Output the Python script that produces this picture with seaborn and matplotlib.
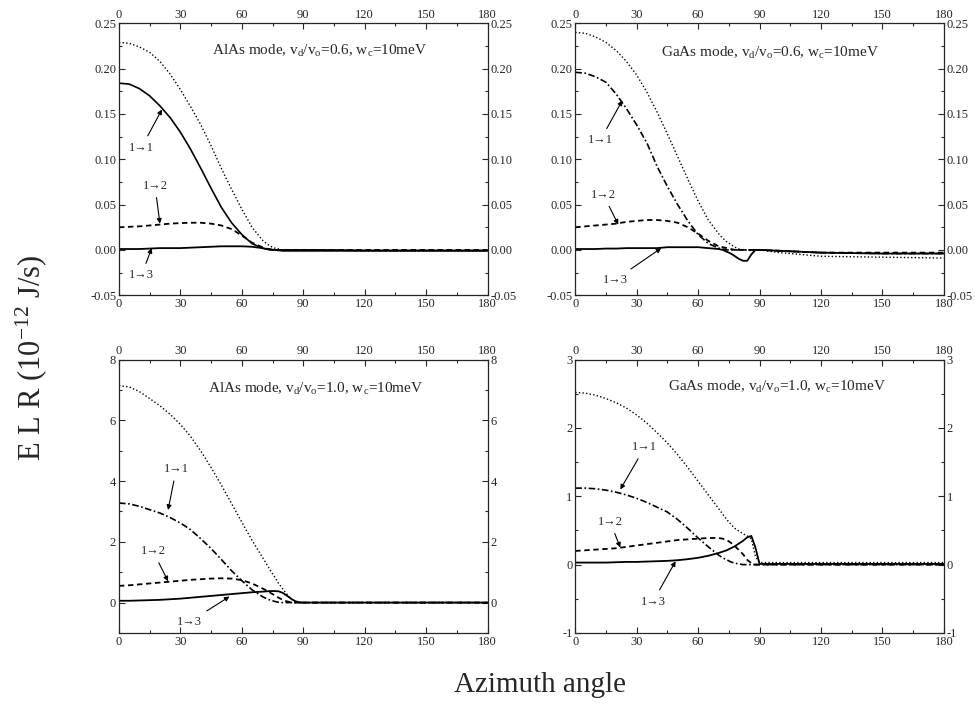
import matplotlib
matplotlib.use('Agg')
import matplotlib.pyplot as plt
from matplotlib.ticker import MultipleLocator, FormatStrFormatter
import seaborn as sns

# azimuth angle grid (degrees)
ang = [0, 5, 10, 15, 20, 25, 30, 35, 40, 45, 50, 55, 60, 65, 70,
       72, 74, 76, 78, 80, 82, 84, 86, 88, 90, 100, 120, 150, 180]

# AlAs mode, vd/vo = 0.6
alas06_total = [0.229, 0.228, 0.224, 0.218, 0.208, 0.194, 0.177, 0.158, 0.138, 0.115, 0.090, 0.067, 0.045, 0.025, 0.011,
                0.007, 0.004, 0.002, 0.001, 0, 0, 0, 0, 0, 0, 0, -0.001, -0.001, -0.001]
alas06_11 = [0.184, 0.183, 0.178, 0.170, 0.159, 0.146, 0.130, 0.111, 0.090, 0.068, 0.047, 0.030, 0.017, 0.007, 0.002,
             0.001, 0, 0, 0, 0, 0, 0, 0, 0, 0, 0, -0.0005, -0.0005, -0.0005]
alas06_12 = [0.025, 0.0255, 0.026, 0.027, 0.028, 0.029, 0.0296, 0.030, 0.030, 0.029, 0.027, 0.023, 0.016, 0.008, 0.003,
             0.0015, 0.0007, 0, 0, 0, 0, 0, 0, 0, 0, 0, 0, 0, 0]
alas06_13 = [0.001, 0.001, 0.001, 0.0015, 0.002, 0.002, 0.002, 0.0025, 0.003, 0.0035, 0.004, 0.004, 0.004, 0.0035, 0.002,
             0.001, 0.0005, 0, -0.0005, -0.001, -0.001, -0.001, -0.001, -0.001, -0.001, -0.001, -0.001, -0.001, -0.001]

# GaAs mode, vd/vo = 0.6
gaas06_total = [0.240, 0.239, 0.235, 0.229, 0.220, 0.208, 0.193, 0.174, 0.152, 0.128, 0.103, 0.078, 0.054, 0.033, 0.018,
                0.013, 0.009, 0.006, 0.003, 0.001, 0, 0, 0, 0, 0, -0.003, -0.007, -0.008, -0.009]
gaas06_11 = [0.196, 0.195, 0.191, 0.185, 0.172, 0.156, 0.138, 0.118, 0.092, 0.070, 0.050, 0.032, 0.017, 0.007, 0.002,
             0.001, 0, 0, 0, 0, 0, 0, 0, 0, 0, -0.001, -0.003, -0.004, -0.004]
gaas06_12 = [0.025, 0.026, 0.027, 0.028, 0.029, 0.031, 0.032, 0.033, 0.033, 0.032, 0.030, 0.025, 0.018, 0.010, 0.004,
             0.003, 0.002, 0.001, 0, 0, 0, 0, 0, 0, 0, -0.001, -0.003, -0.003, -0.003]
gaas06_13 = [0.001, 0.001, 0.001, 0.0015, 0.0015, 0.002, 0.002, 0.002, 0.002, 0.003, 0.003, 0.003, 0.003, 0.002, 0.001,
             0, -0.002, -0.004, -0.007, -0.010, -0.012, -0.012, -0.005, 0, 0, -0.001, -0.003, -0.004, -0.004]

# AlAs mode, vd/vo = 1.0
alas10_total = [7.15, 7.1, 6.95, 6.72, 6.48, 6.2, 5.87, 5.47, 4.99, 4.45, 3.87, 3.26, 2.65, 2.05, 1.5,
                1.28, 1.05, 0.85, 0.63, 0.45, 0.28, 0.12, 0.03, 0, 0, 0, 0, 0, 0]
alas10_11 = [3.28, 3.25, 3.17, 3.06, 2.95, 2.8, 2.62, 2.4, 2.1, 1.78, 1.42, 1.05, 0.72, 0.42, 0.2,
             0.13, 0.08, 0.04, 0.01, 0, 0, 0, 0, 0, 0, 0, 0, 0, 0]
alas10_12 = [0.55, 0.57, 0.6, 0.63, 0.66, 0.69, 0.72, 0.75, 0.77, 0.79, 0.8, 0.79, 0.74, 0.63, 0.47,
             0.4, 0.32, 0.24, 0.16, 0.09, 0.04, 0.01, 0, 0, 0, 0, 0, 0, 0]
alas10_13 = [0.06, 0.06, 0.07, 0.08, 0.09, 0.11, 0.13, 0.16, 0.19, 0.22, 0.25, 0.28, 0.31, 0.34, 0.36,
             0.37, 0.38, 0.38, 0.37, 0.32, 0.23, 0.13, 0.05, 0.01, 0, 0, 0, 0, 0]

# GaAs mode, vd/vo = 1.0
gaas10_total = [2.52, 2.51, 2.48, 2.43, 2.37, 2.29, 2.19, 2.07, 1.93, 1.78, 1.61, 1.42, 1.22, 1.02, 0.82,
                0.74, 0.66, 0.59, 0.53, 0.49, 0.45, 0.42, 0.38, 0.12, 0.03, 0.03, 0.03, 0.03, 0.03]
gaas10_11 = [1.12, 1.12, 1.11, 1.09, 1.06, 1.02, 0.97, 0.91, 0.84, 0.77, 0.66, 0.53, 0.39, 0.26, 0.14,
             0.1, 0.07, 0.04, 0.02, 0.01, 0, 0, 0, 0, 0, 0, 0, 0, 0]
gaas10_12 = [0.2, 0.21, 0.22, 0.23, 0.24, 0.26, 0.28, 0.3, 0.32, 0.34, 0.36, 0.37, 0.38, 0.39, 0.39,
             0.38, 0.36, 0.32, 0.27, 0.21, 0.15, 0.07, 0.02, 0, 0, 0, 0, 0, 0]
gaas10_13 = [0.03, 0.03, 0.03, 0.03, 0.035, 0.04, 0.04, 0.045, 0.05, 0.055, 0.065, 0.08, 0.1, 0.13, 0.17,
             0.19, 0.21, 0.24, 0.27, 0.31, 0.35, 0.4, 0.42, 0.25, 0.01, 0.01, 0.01, 0.01, 0.01]

titles = [r'AlAs mode, v$_\mathrm{d}$/v$_\mathrm{o}$=0.6, w$_\mathrm{c}$=10meV',
          r'GaAs mode, v$_\mathrm{d}$/v$_\mathrm{o}$=0.6, w$_\mathrm{c}$=10meV',
          r'AlAs mode, v$_\mathrm{d}$/v$_\mathrm{o}$=1.0, w$_\mathrm{c}$=10meV',
          r'GaAs mode, v$_\mathrm{d}$/v$_\mathrm{o}$=1.0, w$_\mathrm{c}$=10meV']

sns.set_style('ticks')
plt.rcParams['font.family'] = ['Liberation Serif', 'DejaVu Serif']
plt.rcParams['mathtext.fontset'] = 'custom'
plt.rcParams['mathtext.rm'] = 'Liberation Serif'
plt.rcParams['mathtext.it'] = 'Liberation Serif:italic'
plt.rcParams['axes.unicode_minus'] = False
plt.rcParams['xtick.direction'] = 'in'
plt.rcParams['ytick.direction'] = 'in'

fig = plt.figure(figsize=(9.75, 7.08), dpi=100)
positions = [[0.122, 0.583, 0.378, 0.384], [0.590, 0.583, 0.378, 0.384],
             [0.122, 0.106, 0.378, 0.386], [0.590, 0.106, 0.378, 0.386]]

dashdot = (0, (4, 1.5, 1, 1.5))
panels = [
    (alas06_total, alas06_11, alas06_12, alas06_13, '-'),
    (gaas06_total, gaas06_11, gaas06_12, gaas06_13, dashdot),
    (alas10_total, alas10_11, alas10_12, alas10_13, dashdot),
    (gaas10_total, gaas10_11, gaas10_12, gaas10_13, dashdot),
]
ylims = [(-0.05, 0.25), (-0.05, 0.25), (-1, 8), (-1, 3)]
ymajor = [0.05, 0.05, 2, 1]
yminor = [0.025, 0.025, 1, 0.5]
title_pos = [(98, 0.22), (95, 0.217), (96, 7.05), (98.5, 2.6)]
# (label, arrow head, text position)
notes = [
    [('1→1', (21, 0.155), (11, 0.113)), ('1→2', (20, 0.029), (17.6, 0.071)), ('1→3', (16, 0.002), (11, -0.028))],
    [('1→1', (23, 0.165), (12.2, 0.121)), ('1→2', (21, 0.028), (13.7, 0.061)), ('1→3', (42, 0.002), (19.5, -0.033))],
    [('1→1', (24, 3.05), (28, 4.4)), ('1→2', (24, 0.7), (16.6, 1.7)), ('1→3', (54, 0.2), (34.6, -0.63))],
    [('1→1', (22, 1.1), (34, 1.72)), ('1→2', (22, 0.25), (17, 0.63)), ('1→3', (49, 0.05), (38, -0.54))],
]

for i, (tot, c11, c12, c13, ls11) in enumerate(panels):
    ax = fig.add_axes(positions[i])
    sns.lineplot(x=ang, y=tot, ax=ax, color='black', linestyle=(0, (1, 1.6)), lw=1.0)
    sns.lineplot(x=ang, y=c11, ax=ax, color='black', linestyle=ls11, lw=1.2)
    sns.lineplot(x=ang, y=c12, ax=ax, color='black', linestyle=(0, (3, 2)), lw=1.3)
    sns.lineplot(x=ang, y=c13, ax=ax, color='black', linestyle='-', lw=1.3)
    ax.set_xlim(0, 180)
    ax.set_ylim(*ylims[i])
    ax.xaxis.set_major_locator(MultipleLocator(30))
    ax.xaxis.set_minor_locator(MultipleLocator(15))
    ax.yaxis.set_major_locator(MultipleLocator(ymajor[i]))
    ax.yaxis.set_minor_locator(MultipleLocator(yminor[i]))
    if i < 2:
        ax.yaxis.set_major_formatter(FormatStrFormatter('%.2f'))
    elif i == 2:
        ax.set_yticks([0, 2, 4, 6, 8])
    ax.tick_params(which='both', top=True, right=True, labeltop=True, labelright=True,
                   labelsize=9, pad=2, width=0.8)
    ax.tick_params(which='major', length=4)
    ax.tick_params(which='minor', length=2)
    for s in ax.spines.values():
        s.set_linewidth(0.9)
    ax.set_xlabel('')
    ax.set_ylabel('')
    ax.text(title_pos[i][0], title_pos[i][1], titles[i], ha='center', va='center', fontsize=11)
    for lab, head, txt in notes[i]:
        ax.annotate(lab, xy=head, xytext=txt, ha='center', va='center', fontsize=9,
                    arrowprops=dict(arrowstyle='-|>', color='black', lw=0.8,
                                    mutation_scale=7, shrinkA=2, shrinkB=0))

fig.text(0.032, 0.494, 'E L R (10$^{\\mathrm{-12}}$ J/s)', rotation=90, ha='center', va='center', fontsize=22)
fig.text(0.554, 0.033, 'Azimuth angle', ha='center', va='center', fontsize=21)

fig.savefig('out.png', dpi=100)
